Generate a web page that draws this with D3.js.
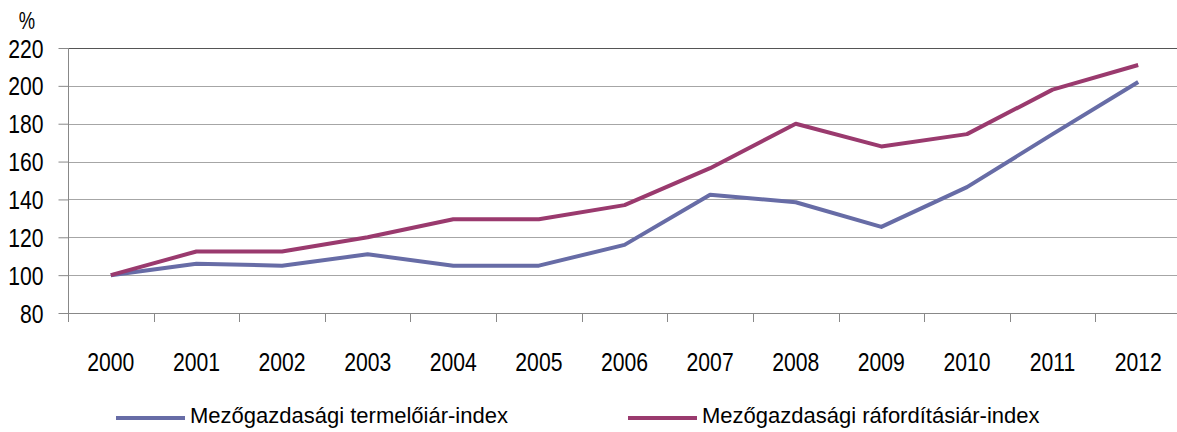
<!DOCTYPE html>
<html>
<head>
<meta charset="utf-8">
<script src="https://cdn.jsdelivr.net/npm/d3@7"></script>
<style>
  body { margin: 0; background: #fff; }
  svg { display: block; font-family: "Liberation Sans", Arial, sans-serif; }
</style>
</head>
<body>
<script>
const width = 1177;
const height = 432;
const margin = {top: 48, left: 68, bottom: 119, right: -4};

const years = ['2000', '2001', '2002', '2003', '2004', '2005', '2006', '2007', '2008', '2009', '2010', '2011', '2012'];
const termeloi = [100, 106, 105, 111, 105, 105, 116, 142.5, 138.5, 125.5, 146.5, 174.5, 202];
const raforditasi = [100, 112.5, 112.5, 120, 129.5, 129.5, 137, 156.5, 180, 168, 174.5, 198, 211];
const yTicks = [80, 100, 120, 140, 160, 180, 200, 220];
const seriesNames = ['Mezőgazdasági termelőiár-index', 'Mezőgazdasági ráfordításiár-index'];
const colors = ['#676ca6', '#9a3a6e'];

// no narrow font installed, so squeeze the digits horizontally
const narrow = 0.83;

const x = d3.scaleBand()
  .domain(years)
  .range([margin.left, width - margin.right]);

const y = d3.scaleLinear()
  .domain([80, 220])
  .range([height - margin.bottom, margin.top]);

const svg = d3.select('body').append('svg')
  .attr('width', width).attr('height', height);

// gridlines
svg.append('g')
  .selectAll('line').data(yTicks.slice(1)).enter().append('line')
  .attr('x1', margin.left).attr('x2', width)
  .attr('y1', d => Math.round(y(d)) + 0.5).attr('y2', d => Math.round(y(d)) + 0.5)
  .attr('stroke', d => d === 220 ? '#555' : '#a6a6a6')
  .attr('stroke-width', 1);

// x axis
const xAxis = g => g
  .attr('transform', `translate(0, ${Math.round(y(80)) + 0.5})`)
  .call(d3.axisBottom(x).tickValues([]).tickSizeOuter(0))
  .call(g => g.select('.domain').attr('stroke', '#888').attr('d', `M${margin.left},0H${width}`));

svg.append('g').call(xAxis);

// x tick marks at band boundaries
svg.append('g')
  .selectAll('line').data(years).enter().append('line')
  .attr('x1', d => Math.round(x(d)) + 0.5).attr('x2', d => Math.round(x(d)) + 0.5)
  .attr('y1', y(80)).attr('y2', y(80) + 9)
  .attr('stroke', '#888');

svg.append('g')
  .selectAll('text').data(years).enter().append('text')
  .attr('transform', d => `translate(${x(d) + x.bandwidth() / 2}, 371) scale(${narrow}, 1)`)
  .attr('text-anchor', 'middle')
  .attr('font-size', 25.5)
  .text(d => d);

// y axis
const yAxis = g => g
  .attr('transform', `translate(${margin.left + 0.5}, 0)`)
  .call(d3.axisLeft(y).tickValues(yTicks).tickSize(10).tickSizeOuter(0))
  .call(g => g.select('.domain').attr('stroke', '#888').attr('d', `M0,${y(220)}V${y(80) + 9}`))
  .call(g => g.selectAll('.tick line').attr('stroke', '#888'))
  .call(g => g.selectAll('.tick text')
    .attr('x', null).attr('dy', null)
    .attr('transform', `translate(-25, 9) scale(${narrow}, 1)`)
    .attr('font-size', 25.5).attr('fill', '#000')
    .attr('font-family', '"Liberation Sans", Arial, sans-serif'));

svg.append('g').call(yAxis);

svg.append('text')
  .attr('transform', `translate(27, 29) scale(0.8, 1)`)
  .attr('text-anchor', 'middle')
  .attr('font-size', 23)
  .text('%');

// lines
const line = d3.line()
  .x((d, i) => x(years[i]) + x.bandwidth() / 2)
  .y(d => y(d));

[termeloi, raforditasi].forEach((s, k) => {
  svg.append('path')
    .datum(s)
    .attr('fill', 'none')
    .attr('stroke', colors[k])
    .attr('stroke-width', 4)
    .attr('stroke-linejoin', 'round')
    .attr('d', line);
});

// legend
const legendX = [116, 628];
const legend = svg.append('g')
  .selectAll('g').data(seriesNames).enter().append('g')
  .attr('transform', (d, i) => `translate(${legendX[i]}, 418)`);

legend.append('line')
  .attr('x1', 0).attr('x2', 69)
  .attr('stroke', (d, i) => colors[i])
  .attr('stroke-width', 4);

legend.append('text')
  .attr('x', 74).attr('y', 5)
  .attr('font-size', 22)
  .text(d => d);
</script>
</body>
</html>
